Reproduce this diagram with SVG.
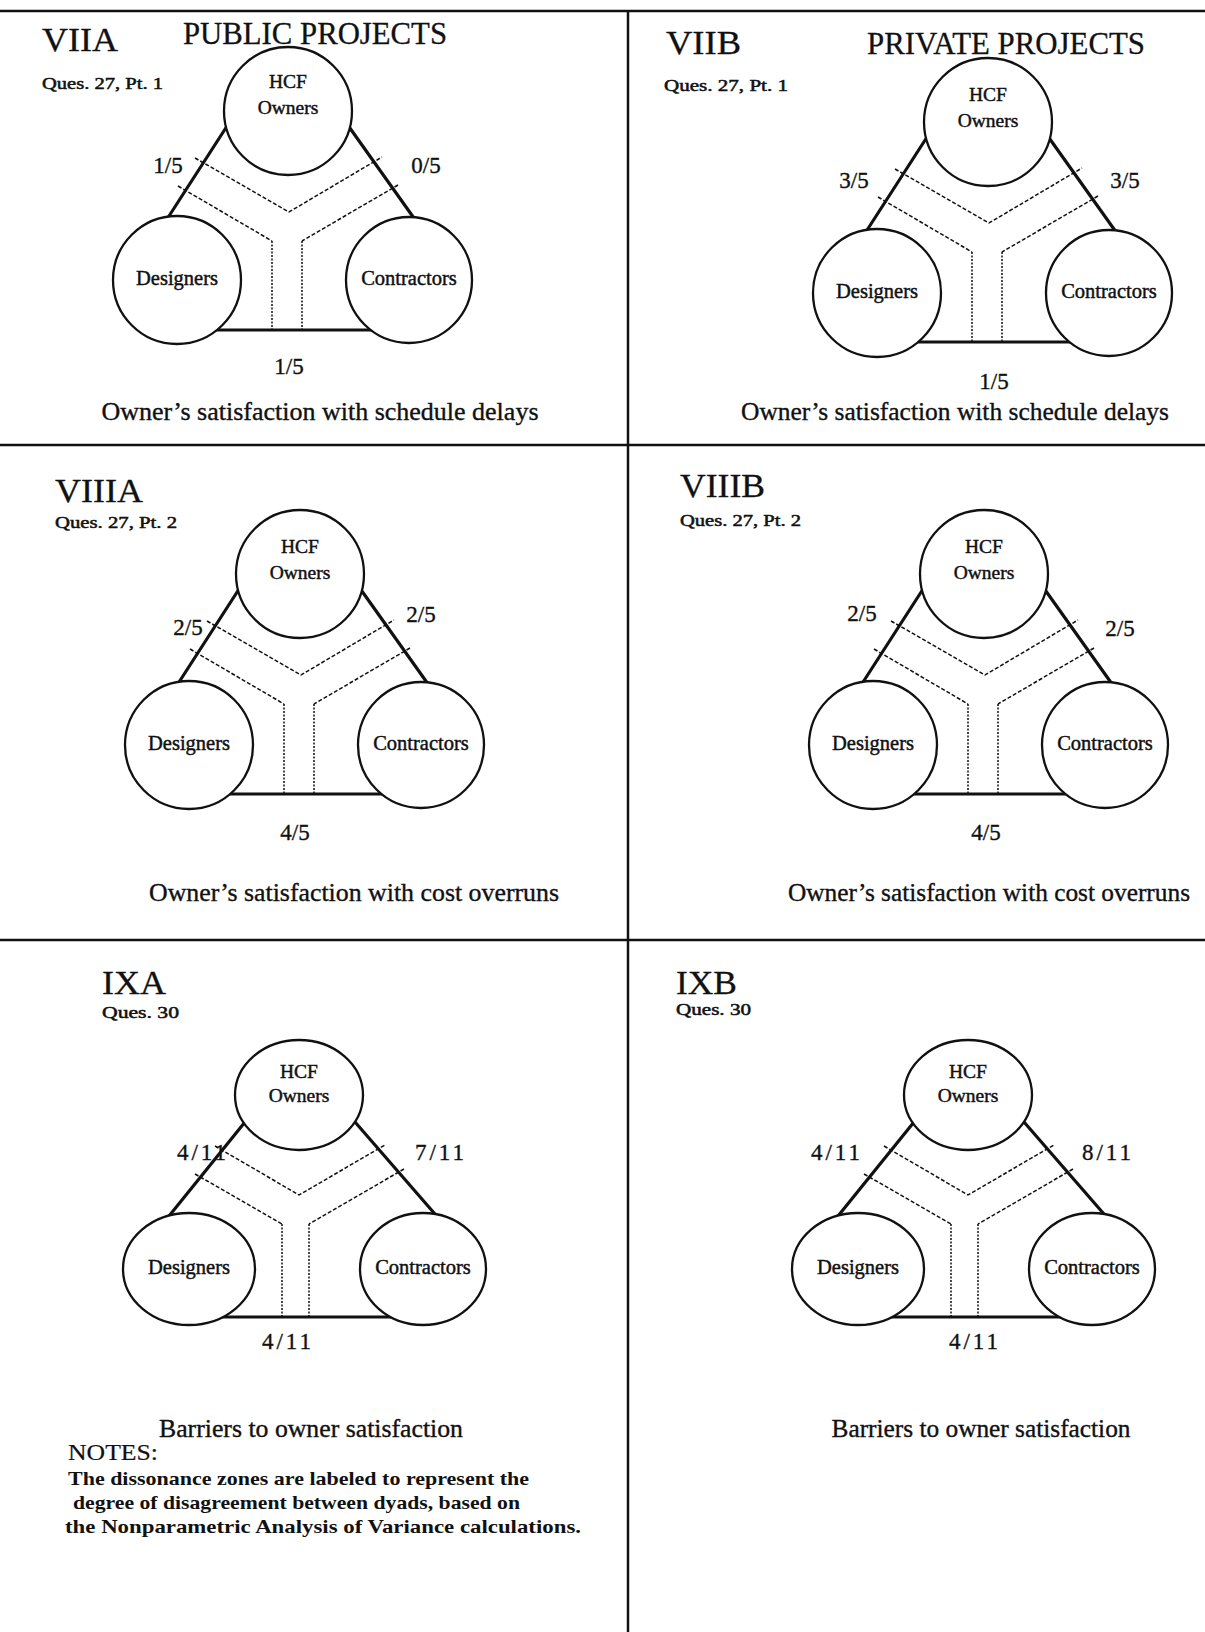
<svg xmlns="http://www.w3.org/2000/svg" width="1205" height="1632" viewBox="0 0 1205 1632">
<style>
  text { font-family: "Liberation Serif", "Times New Roman", serif; fill: #111; stroke: #111; stroke-width: 0.35; }
  .title { font-size: 33px; stroke-width: 0.3; }
  .head { font-size: 31px; stroke-width: 0.3; }
  .ques { font-size: 16px; stroke-width: 0.5; }
  .nl { font-size: 19.5px; text-anchor: middle; stroke-width: 0.45; }
  .nl2 { font-size: 20.5px; text-anchor: middle; stroke-width: 0.45; }
  .frac { font-size: 23px; text-anchor: middle; }
  .frac11 { font-size: 23px; text-anchor: middle; letter-spacing: 3px; }
  .cap { font-size: 25px; text-anchor: middle; }
  .notes { font-size: 24px; stroke-width: 0.2; }
  .body { font-size: 19px; font-weight: bold; stroke-width: 0; }
  .node { fill: #fff; stroke: #111; stroke-width: 2.3; }
  .solid { fill: none; stroke: #111; stroke-width: 3.2; }
  .zone { fill: none; stroke: #111; stroke-width: 1.5; stroke-dasharray: 4 2; }
  .zonev { fill: none; stroke: #111; stroke-width: 1.5; stroke-dasharray: 2 1.5; }
  .frame { fill: none; stroke: #111; stroke-width: 2.5; }
</style>

<!-- page frame: six cells -->
<g id="frame">
  <line class="frame" x1="0" y1="11" x2="1205" y2="11"/>
  <line class="frame" x1="0" y1="445" x2="1205" y2="445"/>
  <line class="frame" x1="0" y1="940" x2="1205" y2="940"/>
  <line class="frame" x1="628" y1="11" x2="628" y2="1632"/>
</g>

<!-- ===== VIIA ===== -->
<g id="panel-viia">
  <text class="title" x="42" y="51" textLength="76" lengthAdjust="spacingAndGlyphs">VIIA</text>
  <text class="head" x="183" y="44" textLength="264" lengthAdjust="spacingAndGlyphs">PUBLIC PROJECTS</text>
  <text class="ques" x="42" y="89" textLength="121" lengthAdjust="spacingAndGlyphs">Ques. 27, Pt. 1</text>
  <g transform="translate(288,111)">
    <g id="viia-connectors">
      <path class="solid" d="M-59,12 L-128,119 M59,13 L133,117 M-78,219 L90,219"/>
      <path class="zone" d="M-93,47 L1,101 L94,46 M-110,75 L-16,130 M110,74 L14,130"/>
      <path class="zonev" d="M-16,130 L-16,219 M14,130 L14,219"/>
    </g>
    <g id="viia-owners"><circle class="node" cx="0" cy="0" r="64"/><text class="nl" x="0" y="-23">HCF</text><text class="nl" x="0" y="3">Owners</text></g>
    <g id="viia-designers"><circle class="node" cx="-111" cy="169" r="64"/><text class="nl2" x="-111" y="174">Designers</text></g>
    <g id="viia-contractors"><circle class="node" cx="121" cy="169" r="63"/><text class="nl2" x="121" y="174">Contractors</text></g>
  </g>
  <text class="frac" x="168" y="173">1/5</text>
  <text class="frac" x="426" y="173">0/5</text>
  <text class="frac" x="289" y="374">1/5</text>
  <text class="cap" x="320" y="420" textLength="437" lengthAdjust="spacingAndGlyphs">Owner’s satisfaction with schedule delays</text>
</g>

<!-- ===== VIIB ===== -->
<g id="panel-viib">
  <text class="title" x="666" y="54" textLength="75" lengthAdjust="spacingAndGlyphs">VIIB</text>
  <text class="head" x="867" y="54" textLength="278" lengthAdjust="spacingAndGlyphs">PRIVATE PROJECTS</text>
  <text class="ques" x="664" y="91" textLength="124" lengthAdjust="spacingAndGlyphs">Ques. 27, Pt. 1</text>
  <g transform="translate(988,122)">
    <g id="viib-connectors">
      <path class="solid" d="M-59,12 L-128,119 M59,13 L133,117 M-78,220 L90,220"/>
      <path class="zone" d="M-93,47 L1,101 L94,46 M-110,75 L-16,130 M110,74 L14,130"/>
      <path class="zonev" d="M-16,130 L-16,220 M14,130 L14,220"/>
    </g>
    <g id="viib-owners"><circle class="node" cx="0" cy="0" r="64"/><text class="nl" x="0" y="-21">HCF</text><text class="nl" x="0" y="5">Owners</text></g>
    <g id="viib-designers"><circle class="node" cx="-111" cy="171" r="64"/><text class="nl2" x="-111" y="176">Designers</text></g>
    <g id="viib-contractors"><circle class="node" cx="121" cy="171" r="63"/><text class="nl2" x="121" y="176">Contractors</text></g>
  </g>
  <text class="frac" x="854" y="188">3/5</text>
  <text class="frac" x="1125" y="188">3/5</text>
  <text class="frac" x="994" y="389">1/5</text>
  <text class="cap" x="955" y="420" textLength="428" lengthAdjust="spacingAndGlyphs">Owner’s satisfaction with schedule delays</text>
</g>

<!-- ===== VIIIA ===== -->
<g id="panel-viiia">
  <text class="title" x="55" y="502" textLength="88" lengthAdjust="spacingAndGlyphs">VIIIA</text>
  <text class="ques" x="55" y="528" textLength="122" lengthAdjust="spacingAndGlyphs">Ques. 27, Pt. 2</text>
  <g transform="translate(300,574)">
    <g id="viiia-connectors">
      <path class="solid" d="M-59,12 L-128,119 M59,13 L133,117 M-78,220 L90,220"/>
      <path class="zone" d="M-93,47 L1,101 L94,46 M-110,75 L-16,130 M110,74 L14,130"/>
      <path class="zonev" d="M-16,130 L-16,220 M14,130 L14,220"/>
    </g>
    <g id="viiia-owners"><circle class="node" cx="0" cy="0" r="64"/><text class="nl" x="0" y="-21">HCF</text><text class="nl" x="0" y="5">Owners</text></g>
    <g id="viiia-designers"><circle class="node" cx="-111" cy="171" r="64"/><text class="nl2" x="-111" y="176">Designers</text></g>
    <g id="viiia-contractors"><circle class="node" cx="121" cy="171" r="63"/><text class="nl2" x="121" y="176">Contractors</text></g>
  </g>
  <text class="frac" x="188" y="635">2/5</text>
  <text class="frac" x="421" y="622">2/5</text>
  <text class="frac" x="295" y="840">4/5</text>
  <text class="cap" x="354" y="901" textLength="410" lengthAdjust="spacingAndGlyphs">Owner’s satisfaction with cost overruns</text>
</g>

<!-- ===== VIIIB ===== -->
<g id="panel-viiib">
  <text class="title" x="680" y="497" textLength="85" lengthAdjust="spacingAndGlyphs">VIIIB</text>
  <text class="ques" x="680" y="526" textLength="121" lengthAdjust="spacingAndGlyphs">Ques. 27, Pt. 2</text>
  <g transform="translate(984,574)">
    <g id="viiib-connectors">
      <path class="solid" d="M-59,12 L-128,119 M59,13 L133,117 M-78,220 L90,220"/>
      <path class="zone" d="M-93,47 L1,101 L94,46 M-110,75 L-16,130 M110,74 L14,130"/>
      <path class="zonev" d="M-16,130 L-16,220 M14,130 L14,220"/>
    </g>
    <g id="viiib-owners"><circle class="node" cx="0" cy="0" r="64"/><text class="nl" x="0" y="-21">HCF</text><text class="nl" x="0" y="5">Owners</text></g>
    <g id="viiib-designers"><circle class="node" cx="-111" cy="171" r="64"/><text class="nl2" x="-111" y="176">Designers</text></g>
    <g id="viiib-contractors"><circle class="node" cx="121" cy="171" r="63"/><text class="nl2" x="121" y="176">Contractors</text></g>
  </g>
  <text class="frac" x="862" y="621">2/5</text>
  <text class="frac" x="1120" y="636">2/5</text>
  <text class="frac" x="986" y="840">4/5</text>
  <text class="cap" x="989" y="901" textLength="402" lengthAdjust="spacingAndGlyphs">Owner’s satisfaction with cost overruns</text>
</g>

<!-- ===== IXA ===== -->
<g id="panel-ixa">
  <text class="title" x="102" y="994" textLength="64" lengthAdjust="spacingAndGlyphs">IXA</text>
  <text class="ques" x="102" y="1018" textLength="77" lengthAdjust="spacingAndGlyphs">Ques. 30</text>
  <g transform="translate(299,1095)">
    <g id="ixa-connectors">
      <path class="solid" d="M-54,27 L-134,126 M56,27 L142,126 M-85,222 L100,222"/>
      <path class="zone" d="M-84,51 L0,100 L86,50 M-104,79 L-17,129 M105,74 L10,129"/>
      <path class="zonev" d="M-17,129 L-17,222 M10,129 L10,222"/>
    </g>
    <g id="ixa-owners"><ellipse class="node" cx="0" cy="0" rx="64" ry="55"/><text class="nl" x="0" y="-17">HCF</text><text class="nl" x="0" y="7">Owners</text></g>
    <g id="ixa-designers"><ellipse class="node" cx="-110" cy="174" rx="66" ry="56"/><text class="nl2" x="-110" y="179">Designers</text></g>
    <g id="ixa-contractors"><ellipse class="node" cx="124" cy="174" rx="63" ry="56"/><text class="nl2" x="124" y="179">Contractors</text></g>
  </g>
  <text class="frac11" x="203" y="1160">4/11</text>
  <text class="frac11" x="441" y="1160">7/11</text>
  <text class="frac11" x="288" y="1349">4/11</text>
  <text class="cap" x="311" y="1437" textLength="304" lengthAdjust="spacingAndGlyphs">Barriers to owner satisfaction</text>
  <text class="notes" x="68" y="1460" textLength="90" lengthAdjust="spacingAndGlyphs">NOTES:</text>
  <text class="body" x="68" y="1485" textLength="461" lengthAdjust="spacingAndGlyphs">The dissonance zones are labeled to represent the</text>
  <text class="body" x="73" y="1509" textLength="447" lengthAdjust="spacingAndGlyphs">degree of disagreement between dyads, based on</text>
  <text class="body" x="65" y="1533" textLength="516" lengthAdjust="spacingAndGlyphs">the Nonparametric Analysis of Variance calculations.</text>
</g>

<!-- ===== IXB ===== -->
<g id="panel-ixb">
  <text class="title" x="676" y="994" textLength="61" lengthAdjust="spacingAndGlyphs">IXB</text>
  <text class="ques" x="676" y="1015" textLength="75" lengthAdjust="spacingAndGlyphs">Ques. 30</text>
  <g transform="translate(968,1095)">
    <g id="ixb-connectors">
      <path class="solid" d="M-54,27 L-134,126 M56,27 L142,126 M-85,222 L100,222"/>
      <path class="zone" d="M-84,51 L0,100 L86,50 M-104,79 L-17,129 M105,74 L10,129"/>
      <path class="zonev" d="M-17,129 L-17,222 M10,129 L10,222"/>
    </g>
    <g id="ixb-owners"><ellipse class="node" cx="0" cy="0" rx="64" ry="55"/><text class="nl" x="0" y="-17">HCF</text><text class="nl" x="0" y="7">Owners</text></g>
    <g id="ixb-designers"><ellipse class="node" cx="-110" cy="174" rx="66" ry="56"/><text class="nl2" x="-110" y="179">Designers</text></g>
    <g id="ixb-contractors"><ellipse class="node" cx="124" cy="174" rx="63" ry="56"/><text class="nl2" x="124" y="179">Contractors</text></g>
  </g>
  <text class="frac11" x="837" y="1160">4/11</text>
  <text class="frac11" x="1108" y="1160">8/11</text>
  <text class="frac11" x="975" y="1349">4/11</text>
  <text class="cap" x="981" y="1437" textLength="299" lengthAdjust="spacingAndGlyphs">Barriers to owner satisfaction</text>
</g>
</svg>
